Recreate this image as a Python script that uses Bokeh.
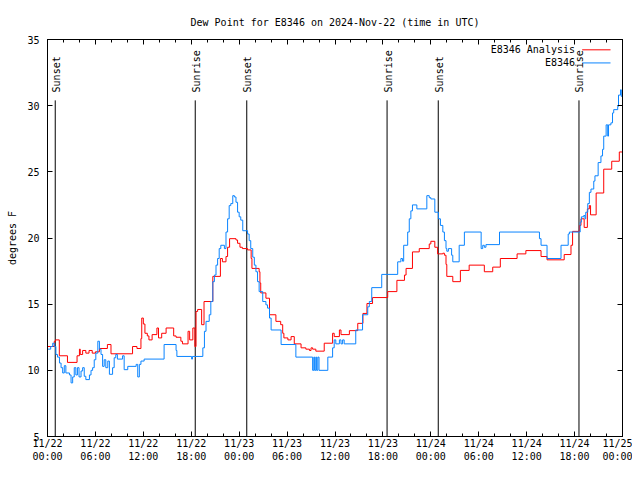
import math
import numpy as np
from bokeh.plotting import figure
from bokeh.models import Range1d, FixedTicker, LinearAxis, Label
from bokeh.embed import file_html
from bokeh.resources import INLINE

FONT = "DejaVu Sans Mono"
FS = "10px"

# ---- data (hours since 2024-11-22 00:00 UTC) ----
analysis_hours = [0.0, 0.85, 1.0, 1.48, 2.5, 3.7, 4.0, 4.1, 4.4, 4.8, 5.2, 5.6, 6.0, 6.5, 7.5, 7.95,
                  10.65, 11.2, 11.7, 11.8, 12.0, 12.2, 12.5, 12.7, 13.1, 13.7, 13.9, 14.3, 14.85, 15.8,
                  16.1, 16.7, 16.9, 17.6, 17.8, 18.2, 18.45, 18.6, 18.8, 19.3, 19.6, 20.7, 21.65, 21.9,
                  22.35, 22.55, 22.8, 23.6, 23.8, 24.1, 24.4, 25.05, 25.5, 25.6, 26.5, 26.6, 26.7, 27.35,
                  27.8, 28.6, 29.2, 29.45, 29.6, 30.1, 30.5, 30.9, 31.75, 32.35, 32.8, 33.0, 33.2, 33.6,
                  34.65, 35.7, 35.9, 36.55, 36.75, 37.8, 38.85, 39.5, 40.0, 40.7, 42.6, 43.75, 44.7, 44.9,
                  45.7, 46.55, 47.8, 48.0, 48.5, 48.85, 49.5, 49.7, 49.9, 50.0, 50.75, 51.7, 52.8, 54.7,
                  55.75, 56.7, 58.8, 59.9, 61.8, 62.55, 64.7, 65.55, 65.75, 66.6, 66.8, 67.2, 67.6, 67.85,
                  68.0, 68.7, 69.65, 70.65, 71.6, 72.0]
analysis_dewpt = [11.8, 12.2, 12.3, 11.1, 10.6, 11.1, 11.6, 11.2, 11.5, 11.3, 11.5, 11.3, 11.4, 11.65, 11.95, 11.25,
                  11.8, 11.65, 12.4, 13.95, 13.5, 12.8, 12.6, 12.3, 12.7, 13.2, 12.45, 12.8, 13.2, 12.6,
                  12.5, 12.2, 12.0, 12.95, 12.3, 13.2, 11.8, 14.45, 14.6, 13.45, 15.2, 17.1, 18.45, 18.2,
                  18.6, 19.3, 19.95, 19.85, 19.6, 19.3, 19.2, 19.1, 18.45, 17.7, 17.45, 16.6, 15.85, 15.45,
                  14.2, 13.7, 13.45, 12.8, 12.45, 12.3, 12.55, 12.0, 11.7, 11.6, 11.5, 11.7, 11.6, 11.45,
                  12.05, 12.8, 12.55, 13.05, 12.7, 13.0, 13.55, 14.3, 15.05, 15.5, 15.95, 16.8, 17.2, 17.7,
                  18.95, 19.2, 19.55, 19.75, 19.3, 18.8, 18.85, 18.7, 18.0, 17.1, 16.7, 17.55, 17.95, 17.45,
                  17.8, 18.45, 18.8, 19.05, 18.6, 18.35, 18.75, 19.45, 20.5, 20.95, 21.45, 20.8, 22.2, 22.45,
                  21.75, 23.4, 25.2, 25.8, 26.5, 26.5]

station_hours = [0.0, 0.4, 0.65, 0.85, 1.05, 1.25, 1.5, 1.7, 1.9, 2.1, 2.3, 2.75, 2.95, 3.15, 3.35, 3.55,
                 3.75, 3.95, 4.2, 4.4, 4.6, 4.8, 5.25, 5.45, 5.65, 5.85, 6.05, 6.3, 6.5, 6.7, 6.9, 7.1,
                 7.3, 7.55, 7.75, 8.15, 8.35, 8.55, 8.75, 9.4, 9.6, 10.05, 11.1, 11.3, 11.5, 11.7, 12.1,
                 14.6, 16.1, 16.2, 18.05, 18.15, 19.45, 19.65, 19.85, 20.25, 20.45, 20.7, 20.9, 21.1, 21.3,
                 21.5, 21.7, 22.15, 22.35, 22.55, 22.75, 22.95, 23.2, 23.4, 23.6, 23.8, 24.0, 24.2, 24.45,
                 25.05, 25.25, 25.45, 25.7, 25.9, 26.1, 26.3, 26.5, 26.95, 27.35, 27.55, 27.8, 28.0, 29.25,
                 31.1, 33.2, 33.35, 33.45, 33.6, 33.7, 33.85, 34.0, 35.1, 35.7, 35.9, 36.1, 36.55, 36.75,
                 36.95, 37.15, 38.6, 39.45, 40.1, 40.3, 40.6, 41.85, 43.85, 44.25, 44.45, 44.6, 45.1, 45.3,
                 45.5, 45.7, 46.25, 47.5, 47.8, 48.0, 48.5, 48.95, 49.2, 49.5, 49.7, 49.9, 50.0, 50.2,
                 50.6, 50.75, 51.55, 52.2, 54.3, 54.5, 54.7, 54.9, 56.6, 61.6, 61.8, 62.55, 64.3, 65.2,
                 65.35, 66.7, 66.85, 67.15, 67.3, 67.4, 67.65, 67.85, 68.05, 68.4, 68.55, 68.95, 69.3, 69.5,
                 69.65, 69.95, 70.15, 70.25, 70.55, 70.75, 70.9, 71.4, 71.5, 71.75, 71.85, 72.0]
station_dewpt = [11.6, 11.8, 12.05, 11.8, 11.2, 11.0, 10.55, 10.2, 9.8, 10.35, 9.8, 9.65, 9.05, 9.5, 10.2, 9.65,
                 10.2, 9.5, 9.95, 10.2, 9.55, 9.3, 9.65, 10.0, 10.2, 10.8, 11.3, 12.2, 11.6, 11.2, 10.3, 10.8,
                 10.2, 10.7, 9.7, 10.2, 10.95, 11.2, 10.85, 11.1, 10.05, 10.3, 10.45, 9.5, 10.45, 10.7, 10.85,
                 11.95, 11.5, 11.05, 10.85, 11.05, 11.7, 12.95, 13.7, 14.2, 15.2, 16.7, 17.2, 17.95, 18.45,
                 19.2, 19.45, 19.2, 20.45, 21.45, 22.45, 22.6, 23.2, 23.1, 22.7, 21.95, 21.6, 21.35, 20.55,
                 20.3, 19.8, 19.2, 18.55, 17.95, 17.45, 16.7, 15.95, 15.2, 14.95, 14.7, 13.95, 13.05, 11.95,
                 11.0, 10.0, 11.0, 10.0, 11.0, 10.0, 11.0, 10.0, 11.0, 11.7, 12.3, 12.0, 12.3, 12.0,
                 12.3, 12.0, 13.05, 14.2, 14.8, 15.2, 16.25, 17.25, 18.2, 18.45, 18.25, 19.45, 20.45, 21.45,
                 22.05, 22.5, 22.2, 23.2, 23.05, 22.95, 21.95, 21.45, 20.95, 20.45, 19.8, 19.2, 19.0, 19.2,
                 18.7, 18.2, 19.45, 20.45, 19.2, 19.45, 19.3, 19.5, 20.45, 19.95, 19.45, 18.45, 19.45, 20.3,
                 20.45, 21.2, 21.6, 21.7, 21.45, 21.95, 22.6, 23.45, 23.7, 24.3, 24.7, 25.7, 26.2, 26.7,
                 27.7, 28.55, 27.7, 28.55, 28.7, 29.45, 29.7, 29.95, 30.8, 31.2, 30.7, 31.7]

sun_event_hours = [0.97, 18.5, 24.95, 42.52, 48.93, 66.55]
sun_event_names = ["Sunset", "Sunrise", "Sunset", "Sunrise", "Sunset", "Sunrise"]

x_tick_hours = [0, 6, 12, 18, 24, 30, 36, 42, 48, 54, 60, 66, 72]
x_tick_labels = ["11/22\n00:00", "11/22\n06:00", "11/22\n12:00", "11/22\n18:00",
                 "11/23\n00:00", "11/23\n06:00", "11/23\n12:00", "11/23\n18:00",
                 "11/24\n00:00", "11/24\n06:00", "11/24\n12:00", "11/24\n18:00",
                 "11/25\n00:00"]
y_ticks = [5, 10, 15, 20, 25, 30, 35]

series_names = ["E8346 Analysis", "E8346"]
series_colors = ["#ff0000", "#0a84ff"]

# ---- layout constants ----
SUN_LINE_TOP = 30.4
SUN_LABEL_Y = 31.0
LEGEND_TEXT_X = 66.05
LEGEND_LINE_X = (66.95, 70.5)
LEGEND_Y = [34.22, 33.23]

# ---- figure ----
p = figure(width=632, height=464, output_backend="svg", toolbar_location=None,
           x_range=Range1d(0, 72), y_range=Range1d(5, 35),
           x_axis_type=None, y_axis_type=None,
           min_border_left=47, min_border_right=10, min_border_top=39, min_border_bottom=28)
p.background_fill_color = "white"
p.border_fill_color = "white"
p.outline_line_color = "black"
p.outline_line_width = 1

xt = FixedTicker(ticks=x_tick_hours, minor_ticks=list(range(0, 73, 2)))
yt = FixedTicker(ticks=y_ticks, minor_ticks=[])


def style_axis(ax, show_labels):
    ax.axis_line_color = "black"
    ax.major_tick_line_color = "black"
    ax.minor_tick_line_color = "black"
    ax.major_tick_in = 5
    ax.major_tick_out = 0
    ax.minor_tick_in = 3
    ax.minor_tick_out = 0
    ax.major_label_text_font = FONT
    ax.axis_label_text_font = FONT
    ax.axis_label_text_font_size = FS
    ax.axis_label_text_font_style = "normal"
    ax.axis_label_text_color = "black"
    if show_labels:
        ax.major_label_text_font_size = FS
        ax.major_label_text_color = "black"
    else:
        ax.major_label_text_font_size = "1px"
        ax.major_label_text_color = None
        ax.major_label_standoff = 0


xb = LinearAxis(ticker=xt)
style_axis(xb, True)
xb.major_label_overrides = {h: lab for h, lab in zip(x_tick_hours, x_tick_labels)}
xb.major_label_standoff = 1
p.add_layout(xb, "below")

yl = LinearAxis(ticker=yt, axis_label="degrees F")
style_axis(yl, True)
yl.major_label_standoff = 8
yl.axis_label_standoff = 6
p.add_layout(yl, "left")

xa = LinearAxis(ticker=xt)
style_axis(xa, False)
p.add_layout(xa, "above")

yr = LinearAxis(ticker=yt)
style_axis(yr, False)
p.add_layout(yr, "right")

p.xgrid.visible = False
p.ygrid.visible = False

p.title.text = "Dew Point for E8346 on 2024-Nov-22 (time in UTC)"
p.title.text_font = FONT
p.title.text_font_size = FS
p.title.text_font_style = "normal"
p.title.text_color = "black"
p.title.align = "center"
p.title.standoff = 23

# sunrise / sunset markers
p.segment(x0=sun_event_hours, y0=[5] * len(sun_event_hours),
          x1=sun_event_hours, y1=[SUN_LINE_TOP] * len(sun_event_hours),
          line_color="black", line_width=1)
for h, name in zip(sun_event_hours, sun_event_names):
    p.add_layout(Label(x=h, y=SUN_LABEL_Y, text=name, angle=math.pi / 2,
                       text_align="left", text_baseline="middle", x_offset=1,
                       text_font=FONT, text_font_size=FS, text_color="black"))

# series
p.step(np.array(analysis_hours), np.array(analysis_dewpt), mode="after",
       line_color=series_colors[0], line_width=1)
p.step(np.array(station_hours), np.array(station_dewpt), mode="after",
       line_color=series_colors[1], line_width=1)

# legend (text right-aligned, sample line to the right)
p.segment(x0=[LEGEND_LINE_X[0]] * 2, y0=LEGEND_Y, x1=[LEGEND_LINE_X[1]] * 2, y1=LEGEND_Y,
          line_color=series_colors, line_width=1)
for name, ly in zip(series_names, LEGEND_Y):
    p.add_layout(Label(x=LEGEND_TEXT_X, y=ly, text=name, text_align="right", text_baseline="middle",
                       text_font=FONT, text_font_size=FS, text_color="black"))

open("out.html", "w").write(file_html(p, INLINE))
